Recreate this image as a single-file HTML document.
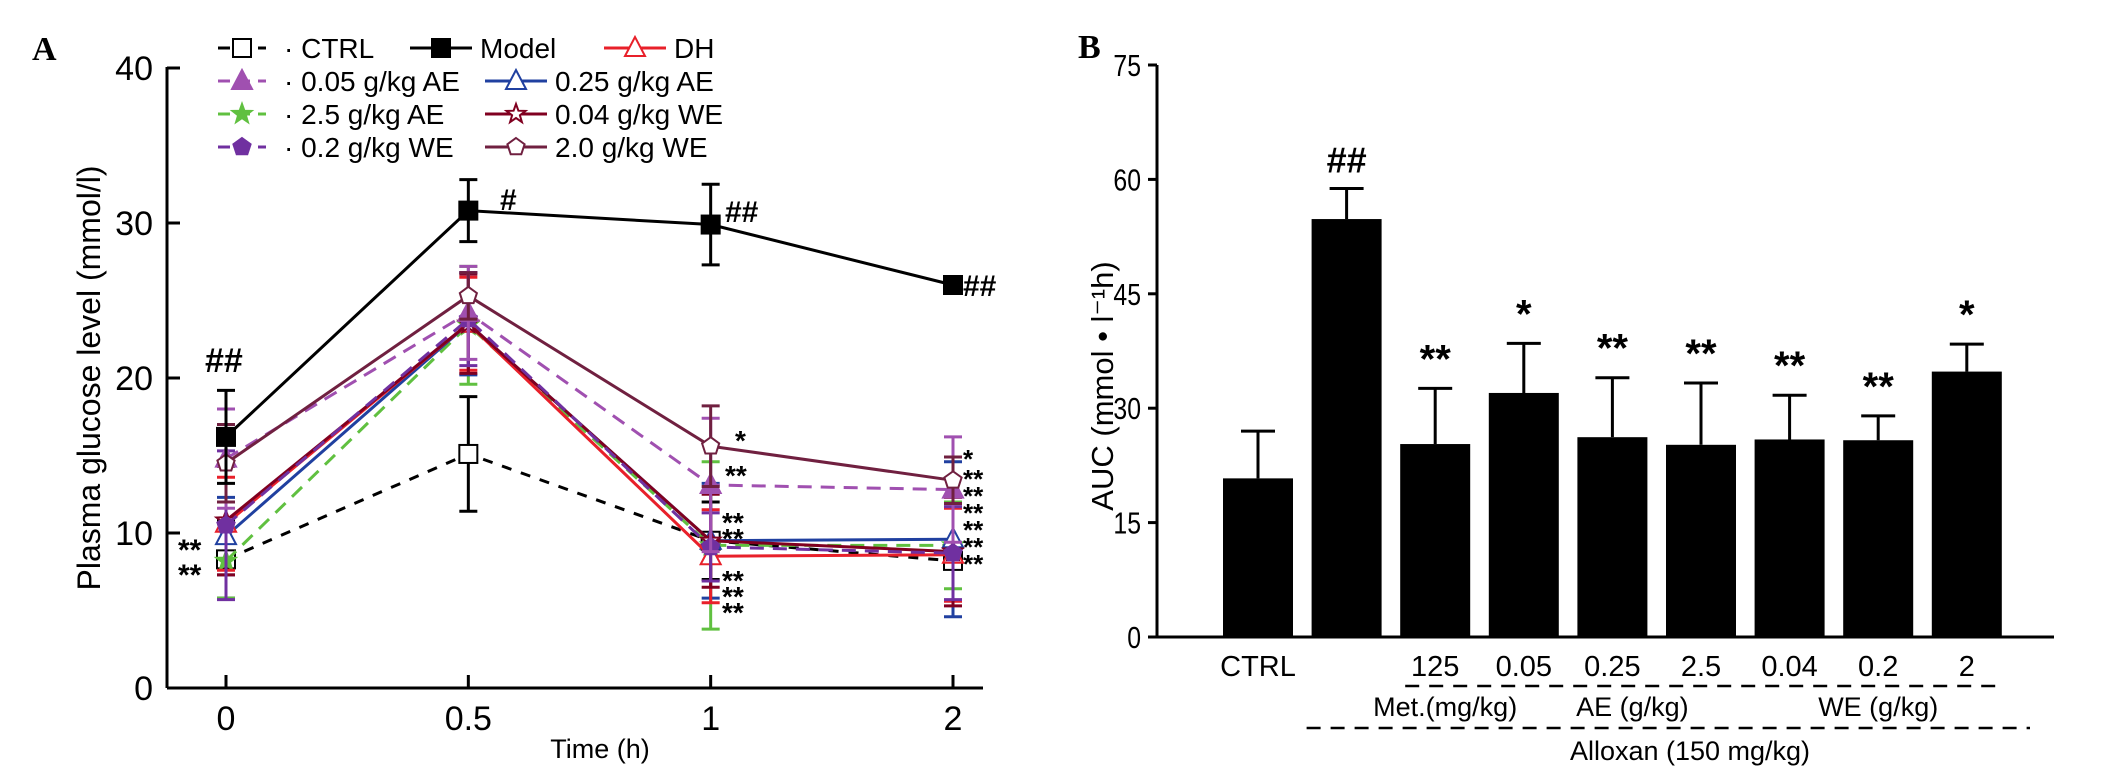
<!DOCTYPE html>
<html><head><meta charset="utf-8"><style>
html,body{margin:0;padding:0;background:#fff;}
svg{display:block;font-family:"Liberation Sans",sans-serif;}
</style></head><body>
<svg id="chart" width="2126" height="767" viewBox="0 0 2126 767" xmlns="http://www.w3.org/2000/svg">
<text x="32" y="60" font-family="Liberation Serif" font-weight="bold" font-size="34">A</text>
<text x="1078" y="58" font-family="Liberation Serif" font-weight="bold" font-size="34">B</text>
<g id="ga"></g>
<g id="gb"></g>
</svg>
<script>
// ---------- Panel A data ----------
const timeLabels = ["0","0.5","1","2"];
const yTicksA = [0,10,20,30,40];
const seriesNames = ["CTRL","Model","DH","0.05 g/kg AE","0.25 g/kg AE","2.5 g/kg AE","0.04 g/kg WE","0.2 g/kg WE","2.0 g/kg WE"];
const ctrlVals = [8.3,15.1,9.5,8.2];   const ctrlErr = [2.5,3.7,2.5,0.5];
const modelVals = [16.2,30.8,29.9,26.0]; const modelErr = [3.0,2.0,2.6,0.3];
const dhVals = [10.6,23.5,8.5,8.6];    const dhErr = [3.0,3.0,3.0,3.0];
const ae005Vals = [14.8,24.2,13.1,12.8]; const ae005Err = [3.2,3.0,4.3,3.4];
const ae025Vals = [9.8,23.5,9.5,9.6];  const ae025Err = [2.5,3.3,3.7,5.0];
const ae25Vals = [8.2,23.4,9.2,9.2];   const ae25Err = [2.4,3.8,5.4,2.8];
const we004Vals = [10.8,23.5,9.5,8.8]; const we004Err = [3.5,3.2,3.0,3.5];
const we02Vals = [10.5,23.8,9.1,8.7];  const we02Err = [4.8,3.0,2.2,3.0];
const we20Vals = [14.5,25.3,15.6,13.4]; const we20Err = [2.5,1.5,2.6,1.5];

// ---------- Panel B data ----------
const barCats = ["CTRL","","125","0.05","0.25","2.5","0.04","0.2","2"];
const barVals = [20.8,54.8,25.3,32.0,26.2,25.2,25.9,25.8,34.8];
const barErr = [6.2,4.0,7.3,6.5,7.8,8.1,5.8,3.2,3.6];
const barMarks = ["","##","**","*","**","**","**","**","*"];
const yTicksB = [0,15,30,45,60,75];

const NS="http://www.w3.org/2000/svg";
function mk(tag,attrs,parent,txt){const e=document.createElementNS(NS,tag);for(const k in attrs)e.setAttribute(k,attrs[k]);if(txt!==undefined)e.textContent=txt;parent.appendChild(e);return e;}

// ---------- Panel A ----------
const ga=document.getElementById('ga');
const ax0=167, axEnd=983, yA0=688, yA40=68;
const xPos=[226,467,709,953];
function ya(v){return yA0-(v/40)*(yA0-yA40);}
function xa(i){return xPos[0]+(xPos[3]-xPos[0])*i/3;}

let e;
e=mk('line',{x1:ax0,y1:yA40-1,x2:ax0,y2:yA0,stroke:'#000','stroke-width':3},ga);


e=mk('line',{x1:ax0,y1:yA0,x2:axEnd,y2:yA0,stroke:'#000','stroke-width':3},ga);


yTicksA.forEach(v=>{
  const t=mk('line',{x1:ax0,y1:ya(v),x2:ax0+13,y2:ya(v),stroke:'#000','stroke-width':3},ga);
  
  
  const l=mk('text',{x:ax0-14,y:ya(v)+12,'text-anchor':'end','font-size':34},ga,String(v));
  
  
});
timeLabels.forEach((s,i)=>{
  const t=mk('line',{x1:xa(i),y1:yA0,x2:xa(i),y2:yA0-13,stroke:'#000','stroke-width':3},ga);
  
  
  const l=mk('text',{x:xa(i),y:yA0+42,'text-anchor':'middle','font-size':34},ga,s);
  
  
});
e=mk('text',{x:600,y:758,'text-anchor':'middle','font-size':27},ga,'Time (h)');


e=mk('text',{x:0,y:0,'text-anchor':'middle','font-size':32,transform:'translate(100,378) rotate(-90)'},ga,'Plasma glucose level (mmol/l)');



const seriesVals=[ctrlVals,modelVals,dhVals,ae005Vals,ae025Vals,ae25Vals,we004Vals,we02Vals,we20Vals];
const seriesErr=[ctrlErr,modelErr,dhErr,ae005Err,ae025Err,ae25Err,we004Err,we02Err,we20Err];
const colors=['#000','#000','#e8202a','#a050b0','#2040a0','#60c040','#800020','#7030a0','#702040'];
const dashes=['10,10','','','14,9','','14,9','','14,9',''];
const markers=['square-open','square','tri-open','tri','tri-open','star','star-open','pent','pent-open'];
function marker(type,cx,cy,col,parent){
  const s=9;let g;
  const fillOpen='#fff';
  if(type.startsWith('square')) g=mk('rect',{x:cx-s,y:cy-s,width:2*s,height:2*s,fill:type==='square'?col:fillOpen,stroke:col,'stroke-width':2},parent);
  else if(type.startsWith('tri')) g=mk('polygon',{points:`${cx},${cy-s-2} ${cx-s-1},${cy+s-1} ${cx+s+1},${cy+s-1}`,fill:type==='tri'?col:fillOpen,stroke:col,'stroke-width':2},parent);
  else if(type.startsWith('star')){let p=[];for(let k=0;k<10;k++){const r=k%2?s*0.45:s+1;const a=-Math.PI/2+k*Math.PI/5;p.push((cx+r*Math.cos(a)).toFixed(1)+','+(cy+r*Math.sin(a)).toFixed(1));}
    g=mk('polygon',{points:p.join(' '),fill:type==='star'?col:fillOpen,stroke:col,'stroke-width':2},parent);}
  else {let p=[];for(let k=0;k<5;k++){const a=-Math.PI/2+k*2*Math.PI/5;p.push((cx+s*Math.cos(a)).toFixed(1)+','+(cy+s*Math.sin(a)).toFixed(1));}
    g=mk('polygon',{points:p.join(' '),fill:type==='pent'?col:fillOpen,stroke:col,'stroke-width':2},parent);}
  return g;
}
const drawOrder=[0,5,4,2,6,7,3,8,1];
drawOrder.forEach(si=>{
  const sg=mk('g',{},ga);
  
  
  const vals=seriesVals[si], err=seriesErr[si], col=colors[si];
  const pts=vals.map((v,i)=>xa(i)+','+ya(v)).join(' ');
  const pl=mk('polyline',{points:pts,fill:'none',stroke:col,'stroke-width':3,'stroke-dasharray':dashes[si]},sg);
  
  
  vals.forEach((v,i)=>{
    const x=xa(i);
    const eb=mk('path',{d:`M${x},${ya(v-err[i])}V${ya(v+err[i])}M${x-9},${ya(v-err[i])}h18M${x-9},${ya(v+err[i])}h18`,stroke:col,'stroke-width':3,fill:'none'},sg);
    
    
    const m=marker(markers[si],x,ya(v),col,sg);
    
    
  });
});
// annotations A
const annA=[["##",205,372,34],["#",500,210,30],["##",725,222,30],["##",963,296,30],
 ["**",178,560,30],["**",178,585,30],["*",735,450,28],["**",725,485,28],["**",722,532,28],["**",722,548,28],
 ["**",722,590,28],["**",722,606,28],["**",722,622,28],
 ["*",963,468,26],["**",963,488,26],["**",963,505,26],["**",963,522,26],["**",963,539,26],["**",963,556,26],["**",963,573,26]];
annA.forEach(a=>{
  const t=mk('text',{x:a[1],y:a[2],'font-size':a[3],'font-weight':'bold'},ga,a[0]);
  
  
});
// legend A
const legPos=[[218,48],[410,48],[604,48],[218,81],[485,81],[218,114],[485,114],[218,147],[485,147]];
seriesNames.forEach((n,si)=>{
  const [lx,ly]=legPos[si];
  const lg=mk('g',{},ga);
  
  
  const w=dashes[si]?48:62;
  mk('line',{x1:lx,y1:ly,x2:lx+w,y2:ly,stroke:colors[si],'stroke-width':3,'stroke-dasharray':dashes[si]?'12,8':''},lg);
  marker(markers[si],lx+w/2,ly,colors[si],lg);
  const tx = dashes[si]?lx+66:lx+w+8;
  mk('text',{x:tx,y:ly+10,'font-size':28},lg,(dashes[si]?'· ':'')+n);
});

// ---------- Panel B ----------
const gb=document.getElementById('gb');
const bx0=1157, bxEnd=2054, yB0=637, yB75=65;
function yb(v){return yB0-(v/75)*(yB0-yB75);}
function xb(i){return 1258+i*88.6;}
const bw=70;
e=mk('line',{x1:bx0,y1:yB75,x2:bx0,y2:yB0,stroke:'#000','stroke-width':3},gb);


e=mk('line',{x1:bx0,y1:yB0,x2:bxEnd,y2:yB0,stroke:'#000','stroke-width':3},gb);


yTicksB.forEach(v=>{
  const t=mk('line',{x1:bx0-9,y1:yb(v),x2:bx0,y2:yb(v),stroke:'#000','stroke-width':3},gb);
  
  
  const l=mk('text',{x:bx0-16,y:yb(v)+11,'text-anchor':'end','font-size':31,transform:`translate(${bx0-16},0) scale(0.8,1) translate(${-(bx0-16)},0)`},gb,String(v));
  
  
});
e=mk('text',{x:0,y:0,'text-anchor':'middle','font-size':31,transform:'translate(1113,386) rotate(-90)'},gb,'AUC (mmol • l⁻¹h)');


barVals.forEach((v,i)=>{
  const cx=xb(i);
  const r=mk('rect',{x:cx-bw/2,y:yb(v),width:bw,height:yB0-yb(v),fill:'#000'},gb);
  
  
  const eb=mk('path',{d:`M${cx},${yb(v)}V${yb(v+barErr[i])}M${cx-17},${yb(v+barErr[i])}h34`,stroke:'#000','stroke-width':3,fill:'none'},gb);
  
  
  if(barMarks[i]){
    const t=mk('text',{x:cx,y:yb(v+barErr[i])-16,'text-anchor':'middle','font-size':barMarks[i]==='##'?36:40,'font-weight':'bold'},gb,barMarks[i]);
    
    
  }
  if(barCats[i]){
    const l=mk('text',{x:cx,y:676,'text-anchor':'middle','font-size':29},gb,barCats[i]);
    
    
  }
});
e=mk('line',{x1:xb(2)-30,y1:686,x2:xb(8)+30,y2:686,stroke:'#000','stroke-width':2.5,'stroke-dasharray':'14,10'},gb);


[["Met.(mg/kg)",xb(2)+10],["AE (g/kg)",xb(4)+20],["WE (g/kg)",xb(7)]].forEach(g=>{
  const t=mk('text',{x:g[1],y:716,'text-anchor':'middle','font-size':27},gb,g[0]);
  
  
});
e=mk('line',{x1:xb(1)-40,y1:728,x2:2030,y2:728,stroke:'#000','stroke-width':2.5,'stroke-dasharray':'14,10'},gb);


e=mk('text',{x:1690,y:760,'text-anchor':'middle','font-size':27},gb,'Alloxan (150  mg/kg)');


</script>
</body></html>
